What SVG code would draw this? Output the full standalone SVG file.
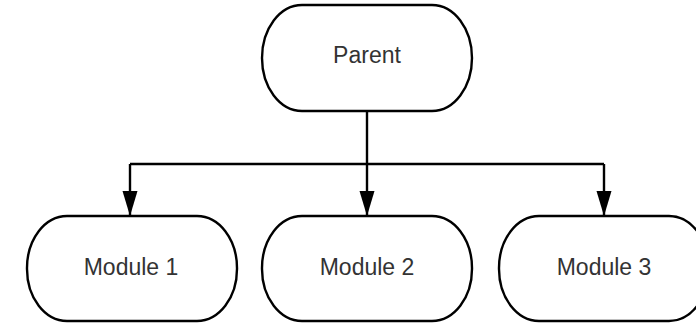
<svg xmlns="http://www.w3.org/2000/svg" width="696" height="323" viewBox="0 0 696 323">
  <style>
    .node { fill: #ffffff; stroke: #000000; stroke-width: 2.4; }
    .label { font-family: "Liberation Sans", Arial, sans-serif; font-size: 23px; fill: #333333; text-anchor: middle; dominant-baseline: central; }
    .edge { fill: none; stroke: #000000; stroke-width: 2.4; }
  </style>
  <defs>
    <marker id="arrow" markerWidth="16" markerHeight="26" refX="8" refY="25" orient="0" markerUnits="userSpaceOnUse" viewBox="0 0 16 26">
      <path d="M0.5,0 L15.5,0 L8,25 Z" fill="#000000"/>
    </marker>
  </defs>
  <rect width="696" height="323" fill="#ffffff"/>

  <g id="connectors">
    <path class="edge" d="M367,111 L367,164"/>
    <path class="edge" d="M130,164 L604,164"/>
    <path class="edge" d="M130,164 L130,216" marker-end="url(#arrow)"/>
    <path class="edge" d="M367,164 L367,216" marker-end="url(#arrow)"/>
    <path class="edge" d="M604,164 L604,216" marker-end="url(#arrow)"/>
  </g>

  <g id="parent">
    <rect class="node" x="262" y="5" width="210" height="106" rx="40" ry="53"/>
    <text class="label" x="367" y="55">Parent</text>
  </g>
  <g id="module1">
    <rect class="node" x="27" y="216" width="210" height="105" rx="40" ry="52"/>
    <text class="label" x="131" y="267">Module 1</text>
  </g>
  <g id="module2">
    <rect class="node" x="262" y="216" width="210" height="105" rx="40" ry="52"/>
    <text class="label" x="367" y="267">Module 2</text>
  </g>
  <g id="module3">
    <rect class="node" x="499" y="216" width="210" height="105" rx="40" ry="52"/>
    <text class="label" x="604" y="267">Module 3</text>
  </g>
</svg>
